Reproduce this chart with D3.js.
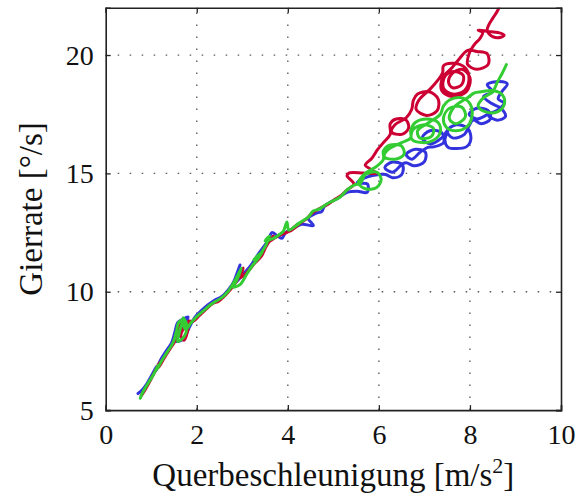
<!DOCTYPE html>
<html><head><meta charset="utf-8">
<script src="https://cdn.jsdelivr.net/npm/d3@7"></script>
<style>html,body{margin:0;padding:0;background:#fff;}svg{display:block;}</style>
</head><body>
<svg id="chart" width="585" height="496"></svg>
<script>
const xTicks = [0, 2, 4, 6, 8, 10];
const yTicks = [5, 10, 15, 20];
const xLabel = "Querbeschleunigung [m/s";
const yLabel = "Gierrate [°/s]";

const blueData = [
[0.71,5.7],[0.8,5.85],[0.9,6.1],[1.02,6.5],[1.12,6.85],[1.1,6.65],[1.2,7.1],[1.33,7.5],[1.45,7.85],[1.52,8.3],[1.58,8.7],[1.7,8.85],[1.81,8.93],[1.62,8.2],[1.56,7.9],[1.7,8.0],[1.85,8.55],[1.95,8.9],[2.1,9.2],[2.25,9.45],[2.4,9.65],[2.55,9.8],[2.7,10.1],[2.82,10.45],[2.95,11.13],[2.85,10.6],[2.78,10.25],[3.05,10.8],[3.2,11.15],[3.32,11.5],[3.45,11.85],[3.58,12.2],[3.65,12.5],[3.78,12.35],[3.87,12.26],[3.95,12.5],[4.1,12.65],[4.3,12.85],[4.56,12.8],[4.45,13.1],[4.6,13.3],[4.75,13.4],[4.8,13.6],[4.95,13.8],[5.1,13.95],[5.3,14.2],[5.52,14.25],
[5.74,14.2],[5.75,14.55],[5.52,14.6],[5.75,14.85],[6.0,14.95],
[6.15,14.95],[6.3,14.82],[6.5,14.95],[6.52,15.35],[6.3,15.48],[6.13,15.25],[6.3,15.05],[6.52,15.4],
[6.6,15.45],[6.78,15.32],[7.0,15.5],[7.02,15.9],[6.8,16.02],[6.6,15.8],[6.72,15.6],[6.92,15.92],[7.08,16.1],
[7.2,16.12],[7.42,16.3],[7.38,16.72],[7.12,16.8],[6.95,16.5],[7.12,16.25],[7.38,16.5],[7.52,16.85],[7.45,16.4],[7.52,16.1],
[7.68,16.05],[7.92,16.12],[8.02,16.45],[7.95,16.9],[7.7,17.05],[7.5,16.8],[7.62,16.5],[7.88,16.65],[7.98,17.0],[8.07,17.25],
[8.25,17.1],[8.45,17.3],[8.4,17.65],[8.15,17.75],[7.98,17.5],[8.15,17.3],[8.4,17.5],[8.6,17.67],[8.75,17.97],[8.62,18.15],[8.7,18.45],[8.82,18.78],[8.65,18.88],[8.38,18.75],[8.5,18.45],[8.3,18.25],[8.48,17.95],[8.68,17.75],[8.78,17.4],[8.6,17.25],[8.42,17.4]
];

const redData = [
[0.78,5.6],[0.88,5.9],[0.98,6.25],[1.1,6.7],[1.18,7.0],[1.16,6.8],[1.27,7.15],[1.4,7.55],[1.52,7.9],[1.6,8.35],[1.66,8.7],[1.74,8.65],[1.65,8.15],[1.72,7.95],[1.8,8.35],[1.82,8.75],[1.92,8.75],[2.06,9.0],[2.2,9.25],[2.35,9.5],[2.48,9.6],[2.6,9.8],[2.72,10.05],[2.86,10.4],[2.96,10.8],[3.02,11.0],[2.97,10.6],[3.12,10.85],[3.27,11.2],[3.42,11.5],[3.52,11.9],[3.62,12.2],[3.68,12.35],[3.58,12.1],[3.72,12.28],[3.86,12.42],[3.97,12.5],[4.08,12.62],[4.18,12.8],[4.05,12.55],[4.28,12.9],[4.42,13.1],[4.52,13.3],[4.68,13.5],[4.78,13.6],[4.9,13.72],[5.03,13.9],[5.18,14.08],[5.3,14.3],[5.45,14.55],
[5.3,14.9],[5.35,15.02],[5.65,15.02],[5.95,15.0],[5.8,15.2],[5.7,15.35],[5.85,15.65],[5.97,16.0],[6.1,16.3],[6.25,16.65],
[6.25,17.1],[6.38,17.3],[6.6,17.25],[6.65,16.9],[6.5,16.65],[6.28,16.75],[6.35,17.05],
[6.6,17.35],[6.72,17.7],[6.76,18.1],
[6.85,18.35],[7.1,18.45],[7.3,18.15],[7.28,17.65],[7.05,17.45],[6.82,17.7],[6.88,18.1],[7.12,18.55],[7.3,18.95],[7.4,19.25],
[7.42,19.55],[7.65,19.65],[7.9,19.45],[7.98,19.0],[7.88,18.5],[7.62,18.35],[7.42,18.6],[7.45,19.1],[7.65,19.3],[7.85,19.15],[7.82,18.75],[7.62,18.62],[7.53,18.85],[7.6,19.2],[7.82,19.4],[8.0,19.05],[7.92,18.45],[7.6,18.25],[7.38,18.5],[7.4,19.05],[7.6,19.45],
[7.75,19.8],[7.95,20.2],
[8.15,20.15],[8.38,20.05],[8.4,19.6],[8.15,19.4],[7.95,19.6],[7.98,20.05],[8.1,20.45],[8.22,20.7],
[8.28,20.95],[8.18,21.05],[8.4,21.0],[8.62,20.95],[8.75,20.85],[8.68,20.75],[8.5,20.78],[8.38,21.05],[8.42,21.3],[8.5,21.55],[8.6,21.85],[8.66,22.1]
];

const greenData = [
[0.76,5.5],[0.8,5.7],[0.92,6.1],[1.05,6.5],[1.15,6.9],[1.12,6.7],[1.22,7.05],[1.35,7.45],[1.48,7.85],[1.55,8.3],[1.6,8.7],[1.68,8.8],[1.62,8.3],[1.58,7.9],[1.72,8.1],[1.78,8.6],[1.7,8.9],[1.75,8.4],[1.88,8.7],[2.0,8.95],[2.15,9.2],[2.3,9.45],[2.42,9.6],[2.55,9.75],[2.68,10.0],[2.8,10.35],[2.9,10.7],[2.98,11.0],[2.88,10.5],[2.8,10.2],[2.95,10.3],[3.1,10.75],[3.22,11.1],[3.4,11.55],[3.25,11.35],[3.45,11.7],[3.3,11.3],[3.5,11.9],[3.55,12.1],[3.6,12.35],[3.5,12.15],[3.68,12.25],[3.8,12.4],[3.9,12.55],[3.98,12.95],[4.02,12.6],[4.15,12.75],[4.3,12.95],[4.2,12.85],[4.45,13.15],[4.55,13.4],[4.7,13.5],[4.85,13.7],[5.0,13.85],[5.15,14.0],[5.3,14.3],[5.45,14.5],
[5.6,14.6],[5.7,14.95],[5.95,15.05],[6.05,14.75],[5.95,14.4],[5.7,14.35],[5.55,14.6],[5.7,15.0],[5.95,15.3],[6.1,15.6],
[6.1,15.95],[6.25,16.2],[6.5,16.15],[6.55,15.8],[6.35,15.6],[6.12,15.7],[6.2,16.0],[6.5,16.3],[6.7,16.5],
[6.7,16.8],[6.8,17.15],[7.05,17.3],[7.3,17.15],[7.35,16.75],[7.2,16.4],[6.95,16.3],[6.72,16.45],[6.75,16.85],[7.0,17.05],[7.2,16.9],[7.15,16.55],[6.9,16.5],[6.85,16.8],[7.1,17.15],[7.35,17.5],[7.42,17.85],
[7.55,18.1],[7.8,18.2],[8.0,17.95],[8.05,17.5],[7.95,17.0],[7.7,16.8],[7.48,16.95],[7.42,17.35],[7.55,17.75],[7.82,17.8],[7.9,17.4],[7.7,17.1],[7.55,17.3],[7.65,17.8],[7.95,18.2],[8.1,18.4],
[8.25,18.45],[8.5,18.5],[8.72,18.3],[8.75,17.9],[8.6,17.6],[8.35,17.6],[8.18,17.85],[8.3,18.2],[8.5,18.45],[8.6,18.85],[8.7,19.2],[8.8,19.6]
];

const series = [
  {name: "blue", data: blueData, color: "#3333dd"},
  {name: "red", data: redData, color: "#cc0033"},
  {name: "green", data: greenData, color: "#33cc33"}
];

const svg = d3.select("#chart");
const m = {left: 105.7, right: 585 - 561, top: 7.7, bottom: 496 - 410.1};
const W = 585, H = 496;
const x = d3.scaleLinear().domain([0, 10]).range([m.left, W - m.right]);
const y = d3.scaleLinear().domain([5, 22]).range([H - m.bottom, m.top]);
const font = "'Liberation Serif', 'Times New Roman', serif";

// grid
const g = svg.append("g");
g.selectAll(".vg").data(xTicks.slice(1, -1)).join("line")
  .attr("x1", d => x(d)).attr("x2", d => x(d))
  .attr("y1", y(5)).attr("y2", y(22))
  .attr("stroke", "#555").attr("stroke-width", 1.3)
  .attr("stroke-dasharray", "1.5,10.5");
g.selectAll(".hg").data(yTicks.slice(1)).join("line")
  .attr("y1", d => y(d)).attr("y2", d => y(d))
  .attr("x1", x(0)).attr("x2", x(10))
  .attr("stroke", "#555").attr("stroke-width", 1.3)
  .attr("stroke-dasharray", "1.5,10.5");

// clip
svg.append("clipPath").attr("id", "clip").append("rect")
  .attr("x", x(0)).attr("y", y(22)).attr("width", x(10) - x(0)).attr("height", y(5) - y(22));

const line = d3.line().curve(d3.curveCatmullRom.alpha(0.5)).x(d => x(d[0])).y(d => y(d[1]));
svg.append("g").attr("clip-path", "url(#clip)")
  .selectAll("path").data(series).join("path")
  .attr("d", d => line(d.data))
  .attr("fill", "none").attr("stroke", d => d.color)
  .attr("stroke-width", 3).attr("stroke-linejoin", "round").attr("stroke-linecap", "round");

// axes (inward ticks)
const tickLen = 5;
const axB = svg.append("g").attr("transform", `translate(0,${y(5)})`)
  .call(d3.axisBottom(x).tickValues(xTicks).tickSize(-tickLen).tickPadding(14).tickFormat(d3.format("d")));
const axT = svg.append("g").attr("transform", `translate(0,${y(22)})`)
  .call(d3.axisTop(x).tickValues(xTicks).tickSize(-tickLen).tickFormat(""));
const axL = svg.append("g").attr("transform", `translate(${x(0)},0)`)
  .call(d3.axisLeft(y).tickValues(yTicks).tickSize(-tickLen).tickPadding(12).tickFormat(d3.format("d")));
const axR = svg.append("g").attr("transform", `translate(${x(10)},0)`)
  .call(d3.axisRight(y).tickValues(yTicks).tickSize(-tickLen).tickFormat(""));
[axB, axT, axL, axR].forEach(a => {
  a.select(".domain").attr("stroke", "#222").attr("stroke-width", 1.6);
  a.selectAll(".tick line").attr("stroke", "#222").attr("stroke-width", 1.3);
  a.selectAll("text").attr("font-family", font).attr("font-size", 28).attr("fill", "#111");
});
axB.selectAll("text").attr("dy", "0.71em");
axL.selectAll("text").attr("dy", "0.33em");

// titles
const xt = svg.append("text").attr("x", (x(0) + x(10)) / 2).attr("y", 486)
  .attr("text-anchor", "middle").attr("font-family", font).attr("font-size", 33).attr("fill", "#111")
  .text(xLabel);
xt.append("tspan").attr("font-size", 22).attr("dy", -13).text("2");
xt.append("tspan").attr("dy", 13).text("]");

svg.append("text").attr("transform", `translate(42,${(y(5) + y(22)) / 2}) rotate(-90)`)
  .attr("text-anchor", "middle").attr("font-family", font).attr("font-size", 33).attr("fill", "#111")
  .text(yLabel);
</script>
</body></html>
